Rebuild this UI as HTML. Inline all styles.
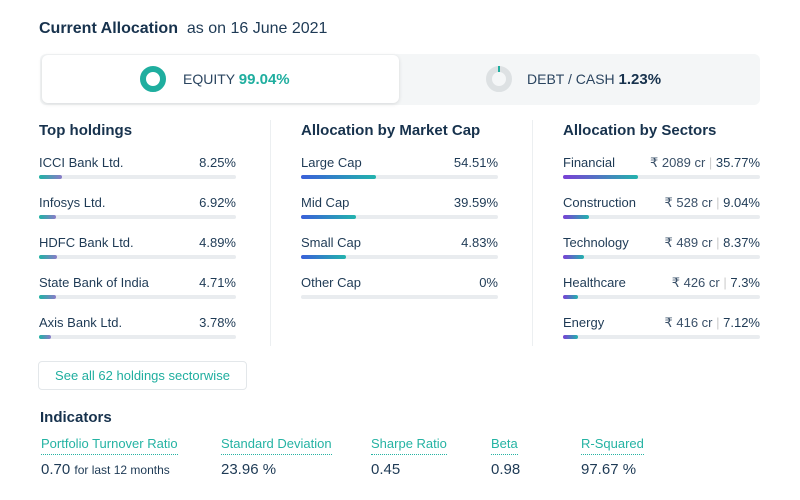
<!DOCTYPE html>
<html><head><style>
*{margin:0;padding:0;box-sizing:border-box}
body{width:800px;height:500px;background:#fff;font-family:"Liberation Sans",sans-serif;color:#1e3a55;position:relative;overflow:hidden}
.a{position:absolute;white-space:nowrap}
.h{font-size:15px;font-weight:bold;color:#17324d}
.t{font-size:13px;color:#1e3a55}
.bar{position:absolute;height:4px;background:#e9ecef;border-radius:2px}
.bar i{position:absolute;left:0;top:0;height:4px;border-radius:2px;display:block}
.g1 i{background:linear-gradient(90deg,#1fb3a4,#8a7bc8)}
.g2 i{background:linear-gradient(90deg,#3a5fd9,#22b3ad)}
.g3 i{background:linear-gradient(90deg,#7a3fd6,#22b3ad)}
.lab{font-size:13px;color:#25b3a3;border-bottom:1px dotted #25b3a3;padding-bottom:3px}
.v{font-size:15px;color:#1e3a55}
</style></head><body>
<div class="a" style="left:39px;top:20px;font-size:16px;font-weight:bold;color:#17324d">Current Allocation <span style="font-weight:normal;font-size:16px;color:#1e3a55">&nbsp;as on 16 June 2021</span></div>
<div class="a" style="left:40px;top:54px;width:720px;height:51px;background:#f4f6f7;border-radius:6px"></div>
<div class="a" style="left:42px;top:55px;width:357px;height:48px;background:#fff;border-radius:6px;box-shadow:0 1px 4px rgba(0,0,0,0.12)"></div>
<svg class="a" style="left:139px;top:65px" width="28" height="28"><circle cx="14" cy="14" r="10" fill="none" stroke="#1fae9f" stroke-width="6"/></svg>
<div class="a" style="left:183px;top:71px;font-size:14px;color:#2b4560">EQUITY <b style="color:#1fae9f;font-size:15px">99.04%</b></div>
<svg class="a" style="left:485px;top:65px" width="28" height="28"><circle cx="14" cy="14" r="10" fill="none" stroke="#dde1e3" stroke-width="6"/><path d="M14 1 v6" stroke="#1fae9f" stroke-width="2"/></svg>
<div class="a" style="left:527px;top:71px;font-size:14px;color:#2b4560">DEBT / CASH <b style="color:#17324d;font-size:15px">1.23%</b></div>

<div class="a" style="left:270px;top:120px;width:1px;height:226px;background:#eceff1"></div>
<div class="a" style="left:532px;top:120px;width:1px;height:226px;background:#eceff1"></div>

<div class="a h" style="left:39px;top:122px">Top holdings</div>
<div class="a h" style="left:301px;top:122px">Allocation by Market Cap</div>
<div class="a h" style="left:563px;top:122px">Allocation by Sectors</div>

<div class="a t" style="left:39px;top:155px">ICCI Bank Ltd.</div><div class="a t" style="left:236px;top:155px;transform:translateX(-100%)">8.25%</div>
<div class="bar g1" style="left:39px;top:175px;width:197px"><i style="width:23px"></i></div>
<div class="a t" style="left:39px;top:195px">Infosys Ltd.</div><div class="a t" style="left:236px;top:195px;transform:translateX(-100%)">6.92%</div>
<div class="bar g1" style="left:39px;top:215px;width:197px"><i style="width:17px"></i></div>
<div class="a t" style="left:39px;top:235px">HDFC Bank Ltd.</div><div class="a t" style="left:236px;top:235px;transform:translateX(-100%)">4.89%</div>
<div class="bar g1" style="left:39px;top:255px;width:197px"><i style="width:18px"></i></div>
<div class="a t" style="left:39px;top:275px">State Bank of India</div><div class="a t" style="left:236px;top:275px;transform:translateX(-100%)">4.71%</div>
<div class="bar g1" style="left:39px;top:295px;width:197px"><i style="width:17px"></i></div>
<div class="a t" style="left:39px;top:315px">Axis Bank Ltd.</div><div class="a t" style="left:236px;top:315px;transform:translateX(-100%)">3.78%</div>
<div class="bar g1" style="left:39px;top:335px;width:197px"><i style="width:12px"></i></div>

<div class="a t" style="left:301px;top:155px">Large Cap</div><div class="a t" style="left:498px;top:155px;transform:translateX(-100%)">54.51%</div>
<div class="bar g2" style="left:301px;top:175px;width:197px"><i style="width:75px"></i></div>
<div class="a t" style="left:301px;top:195px">Mid Cap</div><div class="a t" style="left:498px;top:195px;transform:translateX(-100%)">39.59%</div>
<div class="bar g2" style="left:301px;top:215px;width:197px"><i style="width:55px"></i></div>
<div class="a t" style="left:301px;top:235px">Small Cap</div><div class="a t" style="left:498px;top:235px;transform:translateX(-100%)">4.83%</div>
<div class="bar g2" style="left:301px;top:255px;width:197px"><i style="width:45px"></i></div>
<div class="a t" style="left:301px;top:275px">Other Cap</div><div class="a t" style="left:498px;top:275px;transform:translateX(-100%)">0%</div>
<div class="bar g2" style="left:301px;top:295px;width:197px"></div>

<div class="a t" style="left:563px;top:155px">Financial</div><div class="a t" style="left:760px;top:155px;transform:translateX(-100%)"><span style="color:#3a5068">₹ 2089 cr</span> <span style="color:#ccc">|</span> 35.77%</div>
<div class="bar g3" style="left:563px;top:175px;width:197px"><i style="width:75px"></i></div>
<div class="a t" style="left:563px;top:195px">Construction</div><div class="a t" style="left:760px;top:195px;transform:translateX(-100%)"><span style="color:#3a5068">₹ 528 cr</span> <span style="color:#ccc">|</span> 9.04%</div>
<div class="bar g3" style="left:563px;top:215px;width:197px"><i style="width:26px"></i></div>
<div class="a t" style="left:563px;top:235px">Technology</div><div class="a t" style="left:760px;top:235px;transform:translateX(-100%)"><span style="color:#3a5068">₹ 489 cr</span> <span style="color:#ccc">|</span> 8.37%</div>
<div class="bar g3" style="left:563px;top:255px;width:197px"><i style="width:21px"></i></div>
<div class="a t" style="left:563px;top:275px">Healthcare</div><div class="a t" style="left:760px;top:275px;transform:translateX(-100%)"><span style="color:#3a5068">₹ 426 cr</span> <span style="color:#ccc">|</span> 7.3%</div>
<div class="bar g3" style="left:563px;top:295px;width:197px"><i style="width:15px"></i></div>
<div class="a t" style="left:563px;top:315px">Energy</div><div class="a t" style="left:760px;top:315px;transform:translateX(-100%)"><span style="color:#3a5068">₹ 416 cr</span> <span style="color:#ccc">|</span> 7.12%</div>
<div class="bar g3" style="left:563px;top:335px;width:197px"><i style="width:15px"></i></div>

<div class="a" style="left:38px;top:361px;width:209px;height:29px;border:1px solid #e3e7ea;border-radius:4px;font-size:13px;color:#1fae9f;text-align:center;line-height:27px">See all 62 holdings sectorwise</div>

<div class="a h" style="left:40px;top:409px">Indicators</div>
<div class="a lab" style="left:41px;top:436px">Portfolio Turnover Ratio</div>
<div class="a lab" style="left:221px;top:436px">Standard Deviation</div>
<div class="a lab" style="left:371px;top:436px">Sharpe Ratio</div>
<div class="a lab" style="left:491px;top:436px">Beta</div>
<div class="a lab" style="left:581px;top:436px">R-Squared</div>
<div class="a v" style="left:41px;top:461px">0.70 <span style="font-size:12px">for last 12 months</span></div>
<div class="a v" style="left:221px;top:461px">23.96 %</div>
<div class="a v" style="left:371px;top:461px">0.45</div>
<div class="a v" style="left:491px;top:461px">0.98</div>
<div class="a v" style="left:581px;top:461px">97.67 %</div>
</body></html>
